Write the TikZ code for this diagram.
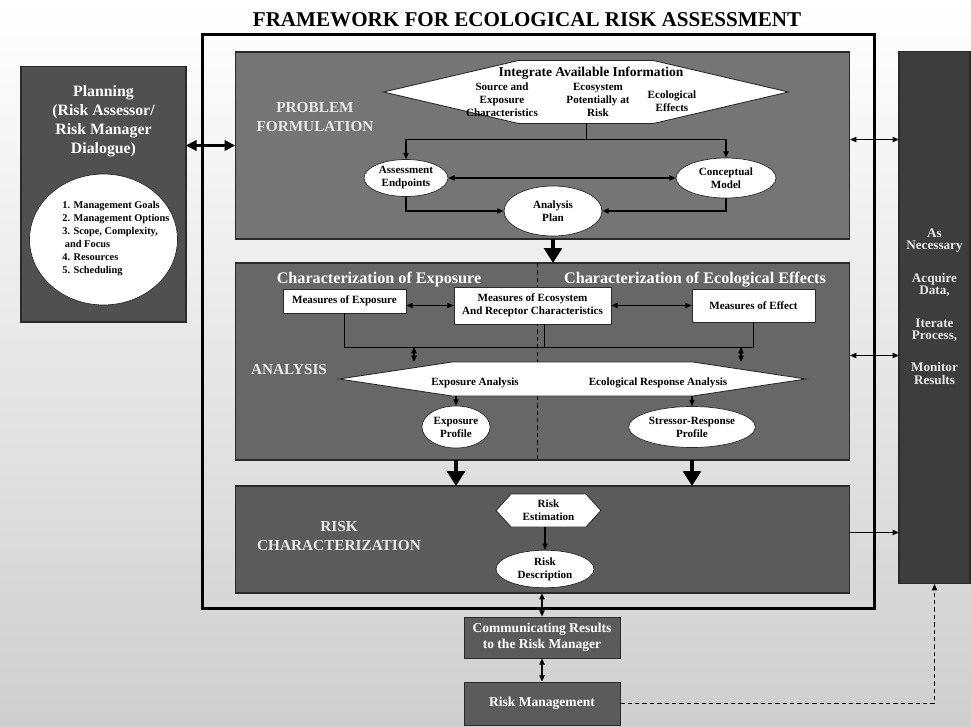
\documentclass[tikz,border=0pt]{standalone}
\usepackage{fontspec}
\setmainfont{Liberation Serif}
\usepackage{tikz}
\usetikzlibrary{shapes.geometric}
\usetikzlibrary{arrows.meta}
\usetikzlibrary{calc}
\definecolor{pfgray}{HTML}{757575}
\definecolor{angray}{HTML}{676767}
\definecolor{rcgray}{HTML}{5B5B5B}
\definecolor{plangray}{HTML}{505050}
\definecolor{bargray}{HTML}{3D3D3D}
\definecolor{edgegray}{HTML}{2A2A2A}
\definecolor{labelgray}{HTML}{E8E8E8}
\newcommand{\smallfont}{\bfseries\fontsize{6.3}{7.4}\selectfont}
\newcommand{\hexshape}[2]{\draw[hexline] (#1.west) -- ($(#1.north west)+(#2,0)$) -- ($(#1.north east)+(-#2,0)$) -- (#1.east) -- ($(#1.south east)+(-#2,0)$) -- ($(#1.south west)+(#2,0)$) -- cycle;}
\tikzstyle{stage}=[draw=edgegray, line width=0.6pt, inner sep=0pt, outer sep=0pt]
\tikzstyle{whitebox}=[draw=edgegray, fill=white, inner sep=1pt, align=center, font=\smallfont]
\tikzstyle{oval}=[whitebox, ellipse]
\tikzstyle{hexspace}=[inner sep=0pt, outer sep=0pt]
\tikzstyle{hexline}=[draw=edgegray, fill=white, line width=0.5pt]
\tikzstyle{hextext}=[inner sep=0pt, align=center, font=\smallfont]
\tikzstyle{stagelabel}=[text=labelgray, align=center, font=\bfseries\fontsize{8.7}{11.3}\selectfont]
\tikzstyle{headlabel}=[text=white, font=\bfseries\fontsize{9.2}{11}\selectfont]
\tikzstyle{darkbox}=[draw=edgegray, fill=rcgray, text=white, align=center, font=\bfseries\fontsize{7.7}{9.4}\selectfont]
\tikzstyle{arr}=[-{Triangle[length=3.6pt,width=3pt]}, line width=0.6pt]
\tikzstyle{dblarr}=[{Triangle[length=3.6pt,width=3pt]}-{Triangle[length=3.6pt,width=3pt]}, line width=0.6pt]
\tikzstyle{fatarr}=[-{Triangle[length=8.5pt,width=10pt]}, line width=2.5pt]
\tikzstyle{fatdblarr}=[{Triangle[length=6pt,width=6pt]}-{Triangle[length=6pt,width=6pt]}, line width=1.3pt]

\begin{document}
\begin{tikzpicture}[x=0.02cm, y=-0.02cm]
  \useasboundingbox (0,0) rectangle (971,727);
  \shade[top color=white, bottom color=gray!38] (0,0) rectangle (971,727);
  \node[font=\bfseries\fontsize{12}{14}\selectfont] (title) at (527,20) {FRAMEWORK FOR ECOLOGICAL RISK ASSESSMENT};
  \node[draw, line width=1.7pt, minimum width=13.46cm, minimum height=11.5cm] (frame) at (538.5,321.5) {};

  % planning
  \node[stage, fill=plangray, minimum width=3.3cm, minimum height=5.12cm] (planning) at (103.5,194) {};
  \node[draw=edgegray, fill=white, ellipse, minimum width=2.96cm, minimum height=2.62cm] (scope) at (103.5,239.5) {};
  \node[text=white, align=center, font=\bfseries\fontsize{9}{10.8}\selectfont] (plantitle) at (103.5,121) {Planning\\(Risk Assessor/\\Risk Manager\\Dialogue)};
  \node[anchor=west, align=left, inner sep=0pt, font=\bfseries\fontsize{5.9}{7.4}\selectfont] (scopelist) at (62,238.5) {1. Management Goals\\2. Management Options\\3. Scope, Complexity,\\\ and Focus\\4. Resources\\5. Scheduling};

  % problem formulation
  \node[stage, fill=pfgray, minimum width=12.3cm, minimum height=3.74cm] (pf) at (542.5,145.5) {};
  \node[stagelabel] (pflabel) at (315,117) {PROBLEM\\FORMULATION};
  \node[hexspace, minimum width=8.1cm, minimum height=1.26cm] (info) at (586,92) {};
  \hexshape{info}{135}
  \node[inner sep=0pt, font=\bfseries\fontsize{7.7}{9}\selectfont] (infotitle) at (591,73) {Integrate Available Information};
  \node[hextext] (srcexp) at (502,100) {Source and\\Exposure\\Characteristics};
  \node[hextext] (ecorisk) at (598,100) {Ecosystem\\Potentially at\\Risk};
  \node[hextext] (ecoeff) at (672,101) {Ecological\\Effects};
  \node[oval, minimum width=1.68cm, minimum height=0.74cm] (endpts) at (406,178) {Assessment\\Endpoints};
  \node[oval, minimum width=2.0cm, minimum height=0.8cm] (concept) at (726,178) {Conceptual\\Model};
  \node[oval, minimum width=1.96cm, minimum height=1.0cm] (plan) at (553,211) {Analysis\\Plan};
  \draw (info.south) -- ++(0,16) coordinate (fork);
  \draw[arr] (fork) -| (endpts.north);
  \draw[arr] (fork) -| (concept.north);
  \draw[dblarr] (endpts) -- (concept);
  \draw[arr] (endpts.south) |- (plan.west);
  \draw[arr] (concept.south) |- (plan.east);

  % analysis
  \node[stage, fill=angray, minimum width=12.3cm, minimum height=3.94cm] (analysis) at (542.5,361.5) {};
  \draw[dashed, dash pattern=on 2.5pt off 1.7pt] ($(analysis.north)+(-5.5,0)$) -- ($(analysis.south)+(-5.5,0)$);
  \node[headlabel] (expohead) at (379,280) {Characterization of Exposure};
  \node[headlabel] (effhead) at (695,280) {Characterization of Ecological Effects};
  \node[stagelabel] (anlabel) at (289,370) {ANALYSIS};
  \node[whitebox, minimum width=2.46cm, minimum height=0.48cm] (moe) at (344.5,301) {Measures of Exposure};
  \node[whitebox, minimum width=3.14cm, minimum height=0.74cm] (mecos) at (532.5,305.5) {Measures of Ecosystem\\And Receptor Characteristics};
  \node[whitebox, minimum width=2.46cm, minimum height=0.66cm] (meff) at (753.5,305.5) {Measures of Effect};
  \draw[dblarr] (mecos.west) -- (mecos.west -| moe.east);
  \draw[dblarr] (mecos.east) -- (mecos.east -| meff.west);
  \coordinate (rail) at (0,347);
  \draw (moe.south) -- (moe.south |- rail) -- (meff.south |- rail) -- (meff.south);
  \draw ($(mecos.south)+(12,0)$) -- ($(mecos.south |- rail)+(12,0)$);
  \node[hexspace, minimum width=9.34cm, minimum height=0.68cm] (anal) at (572.5,379) {};
  \hexshape{anal}{113}
  \node[hextext] (expan) at (475,383) {Exposure Analysis};
  \node[hextext] (ecoresp) at (658,383) {Ecological Response Analysis};
  \coordinate (tapleft) at (414,347);
  \coordinate (tapright) at (741,347);
  \draw[dblarr] (tapleft) -- (tapleft |- anal.north);
  \draw[dblarr] (tapright) -- (tapright |- anal.north);
  \node[oval, minimum width=1.32cm, minimum height=0.84cm] (expprof) at (456,427) {Exposure\\Profile};
  \node[oval, minimum width=2.32cm, minimum height=0.82cm] (srprof) at (692,427) {Stressor-Response\\Profile};
  \draw[arr] (expprof.north |- anal.south) -- (expprof.north);
  \draw[arr] (srprof.north |- anal.south) -- (srprof.north);

  % risk characterization
  \node[stage, fill=rcgray, minimum width=12.3cm, minimum height=2.14cm] (rc) at (542.5,539.5) {};
  \node[stagelabel] (rclabel) at (339,536) {RISK\\CHARACTERIZATION};
  \node[hexspace, minimum width=2.1cm, minimum height=0.66cm] (riskest) at (548.5,510.5) {};
  \hexshape{riskest}{15}
  \node[hextext] (riskesttext) at (riskest) {Risk\\Estimation};
  \node[oval, minimum width=1.96cm, minimum height=0.64cm] (riskdesc) at (545,569) {Risk\\Description};
  \draw[arr] (riskdesc.north |- riskest.south) -- (riskdesc.north);

  % stage to stage
  \draw[fatarr] (plan.south |- pf.south) -- (plan.south |- analysis.north);
  \draw[fatarr] (expprof.south |- analysis.south) -- (expprof.south |- rc.north);
  \draw[fatarr] (srprof.south |- analysis.south) -- (srprof.south |- rc.north);
  \draw[fatdblarr] (planning.east |- pf.west) -- (pf.west);

  % iterate bar
  \node[stage, fill=bargray, minimum width=1.42cm, minimum height=10.66cm] (bar) at (934.5,317.5) {};
  \node[text=labelgray, align=center, font=\bfseries\fontsize{7.5}{7}\selectfont] (bartext) at (934.5,306.5) {As\\Necessary\\[11.5pt]Acquire\\Data,\\[11.5pt]Iterate\\Process,\\[11.5pt]Monitor\\Results};
  \draw[dblarr] ($(pf.east)+(0,-6)$) -- ($(pf.east -| bar.west)+(0,-6)$);
  \draw[dblarr] ($(analysis.east)+(0,-6)$) -- ($(analysis.east -| bar.west)+(0,-6)$);
  \draw[arr] ($(rc.east)+(0,-7)$) -- ($(rc.east -| bar.west)+(0,-7)$);

  % communication and management
  \node[darkbox, minimum width=3.12cm, minimum height=0.82cm] (comm) at (542,637.5) {Communicating Results\\to the Risk Manager};
  \node[darkbox, minimum width=3.12cm, minimum height=0.86cm] (riskman) at (542,703.5) {Risk Management};
  \draw[dblarr, line width=0.9pt] (comm.north) -- (comm.north |- rc.south);
  \draw[dblarr, line width=0.9pt] (comm.south) -- (riskman.north);
  \draw[arr, dashed, dash pattern=on 2.5pt off 1.7pt] (riskman.east) -- (riskman.east -| bar.south) -- (bar.south);
\end{tikzpicture}
\end{document}
